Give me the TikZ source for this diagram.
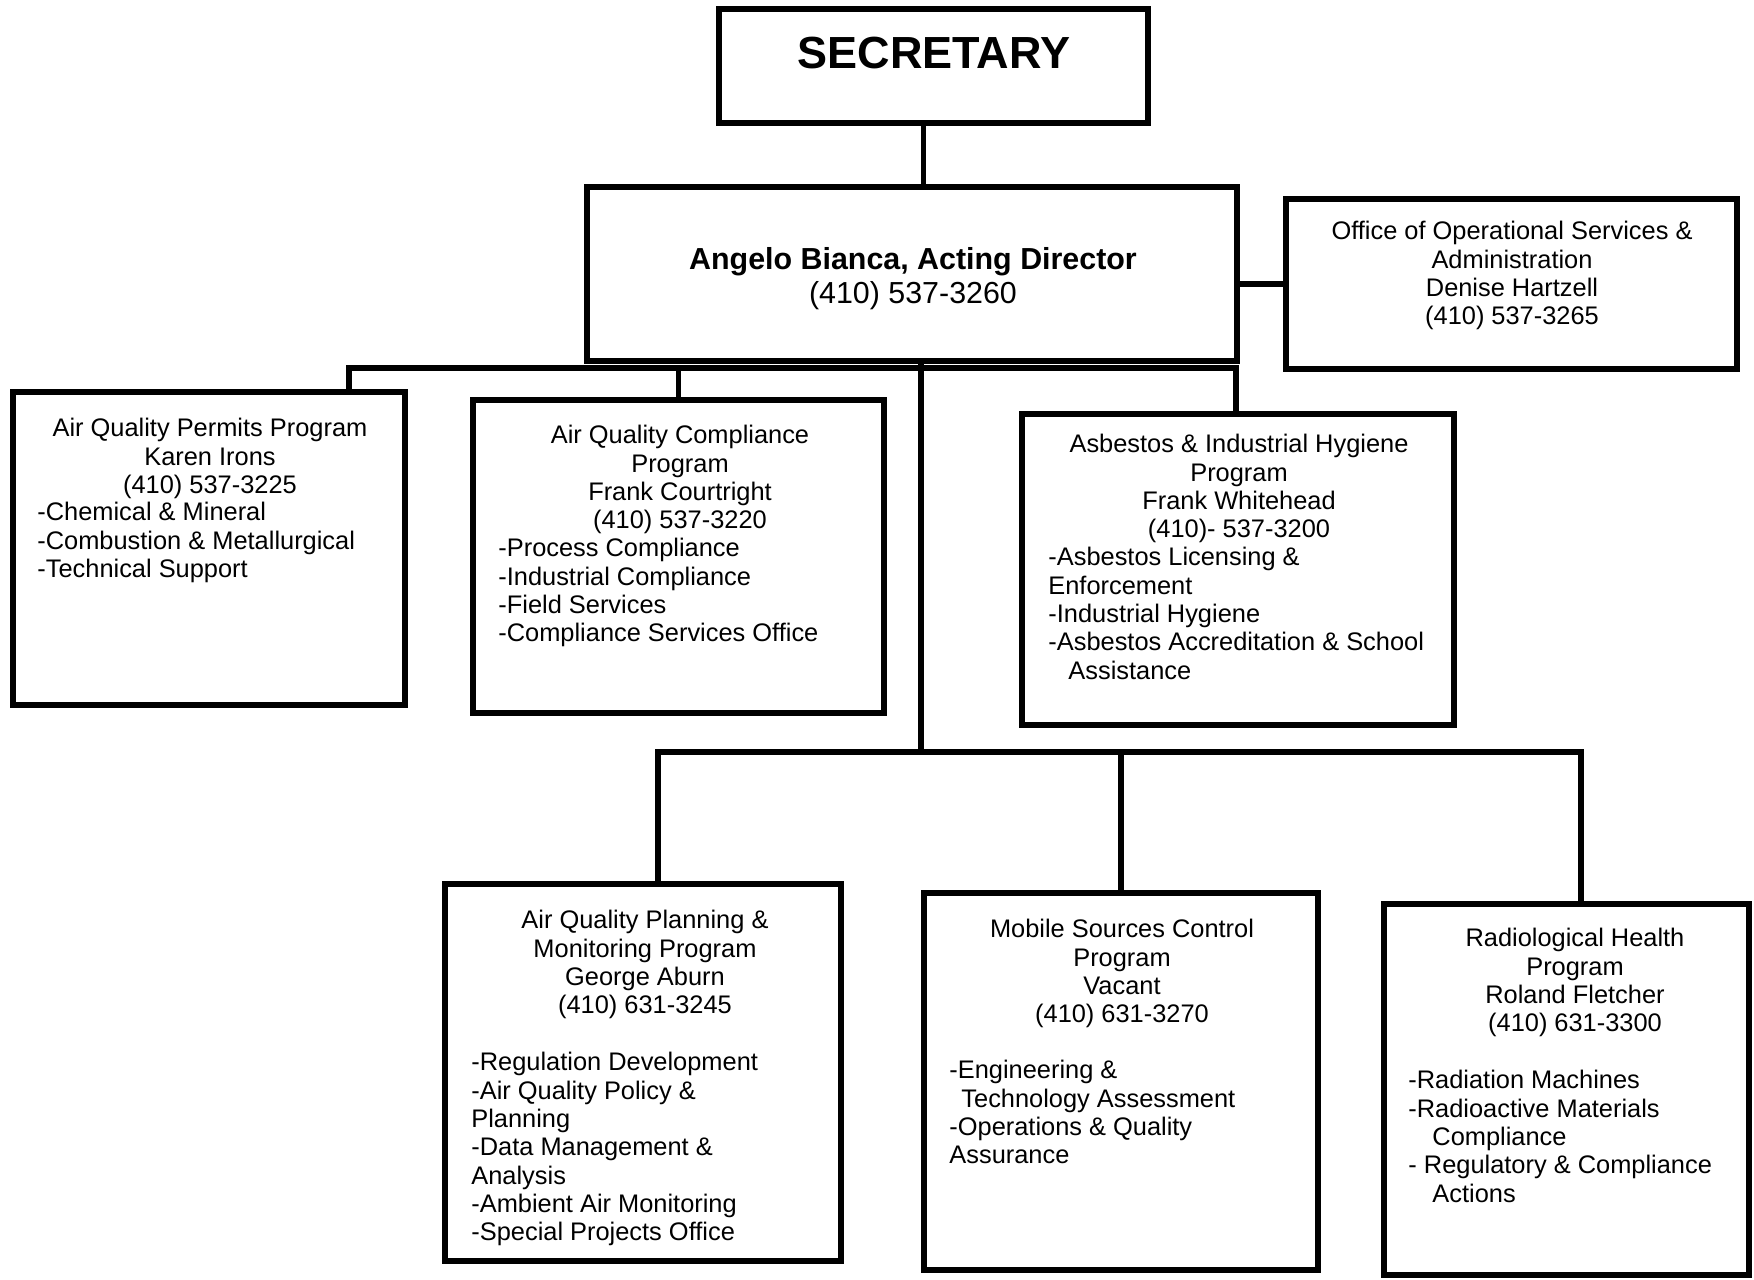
\documentclass[tikz,border=0pt]{standalone}
\usepackage{fontspec}
\setmainfont{Liberation Sans}
\begin{document}
\begin{tikzpicture}[x=0.5pt,y=-0.5pt,
  box/.style={draw, line width=2.9pt, inner sep=0pt},
  conn/.style={draw, line width=2.7pt},
  txt/.style={inner sep=0pt, font=\fontsize{12.7}{14.15}\selectfont},
  hdr/.style={txt, align=center, anchor=north},
  lst/.style={txt, align=left, anchor=north west}]
\useasboundingbox (0,0) rectangle (1754,1279);

% boxes
\node[box, minimum width=214.5pt, minimum height=57pt] (sec) at (933.5,66) {};
\node[box, minimum width=325pt, minimum height=87pt] (dir) at (912,274) {};
\node[box, minimum width=225.5pt, minimum height=85pt] (off) at (1511.5,284) {};
\node[box, minimum width=196pt, minimum height=156.5pt] (perm) at (209,548.5) {};
\node[box, minimum width=205.5pt, minimum height=156.5pt] (comp) at (678.5,556.5) {};
\node[box, minimum width=216pt, minimum height=155.5pt] (asb) at (1238,569.5) {};
\node[box, minimum width=198pt, minimum height=188.5pt] (plan) at (643,1072.5) {};
\node[box, minimum width=197pt, minimum height=188.5pt] (mob) at (1121,1081.5) {};
\node[box, minimum width=182.5pt, minimum height=185.5pt] (rad) at (1566.5,1089.5) {};

% texts
\node[inner sep=0pt, font=\fontsize{22.5}{27}\selectfont\bfseries] (secT) at (934,53) {SECRETARY};
\node[inner sep=0pt, align=center, font=\fontsize{15.2}{16.9}\selectfont] (dirT) at (913,279)
      {\textbf{Angelo Bianca, Acting Director}\\(410) 537-3260};
\node[hdr] (offT) at (1512,221) {Office of Operational Services \&\\Administration\\Denise Hartzell\\(410) 537-3265};

\node[hdr] (permT) at (210,418) {Air Quality Permits Program\\Karen Irons\\(410) 537-3225};
\node[lst] (permL) at (37,502) {-Chemical \& Mineral\\-Combustion \& Metallurgical\\-Technical Support};

\node[hdr] (compT) at (680,425) {Air Quality Compliance\\Program\\Frank Courtright\\(410) 537-3220};
\node[lst] (compL) at (498,538) {-Process Compliance\\-Industrial Compliance\\-Field Services\\-Compliance Services Office};

\node[hdr] (asbT) at (1239,434) {Asbestos \& Industrial Hygiene\\Program\\Frank Whitehead\\(410)- 537-3200};
\node[lst] (asbL) at (1048,547) {-Asbestos Licensing \&\\Enforcement\\-Industrial Hygiene\\-Asbestos Accreditation \& School\\\hspace*{10pt}Assistance};

\node[hdr] (planT) at (645,910) {Air Quality Planning \&\\Monitoring Program\\George Aburn\\(410) 631-3245};
\node[lst] (planL) at (471,1052) {-Regulation Development\\-Air Quality Policy \&\\Planning\\-Data Management \&\\Analysis\\-Ambient Air Monitoring\\-Special Projects Office};

\node[hdr] (mobT) at (1122,919) {Mobile Sources Control\\Program\\Vacant\\(410) 631-3270};
\node[lst] (mobL) at (949,1060) {-Engineering \&\\\hspace*{6pt}Technology Assessment\\-Operations \& Quality\\Assurance};

\node[hdr] (radT) at (1575,928) {Radiological Health\\Program\\Roland Fletcher\\(410) 631-3300};
\node[lst] (radL) at (1408,1070) {-Radiation Machines\\-Radioactive Materials\\\hspace*{12pt}Compliance\\- Regulatory \& Compliance\\\hspace*{12pt}Actions};

% connectors
\draw[conn] ([xshift=-5pt]sec.south) -- ([xshift=-5pt]sec.south |- dir.north);
\draw[conn] (dir.east |- off.west) -- (off.west);

\coordinate (u1) at (349,368);
\coordinate (u2) at (1236,368);
\draw[conn] (perm.north -| u1) -- (u1) -- (u2) -- (asb.north -| u2);
\draw[conn] (comp.north |- u1) -- (comp.north);

\coordinate (l1) at (658,752);
\coordinate (l2) at (1581,752);
\draw[conn] ([xshift=4.5pt]dir.south) -- ([xshift=4.5pt]dir.south |- l1);
\draw[conn] (plan.north -| l1) -- (l1) -- (l2) -- (rad.north -| l2);
\draw[conn] (mob.north |- l1) -- (mob.north);
\end{tikzpicture}
\end{document}
